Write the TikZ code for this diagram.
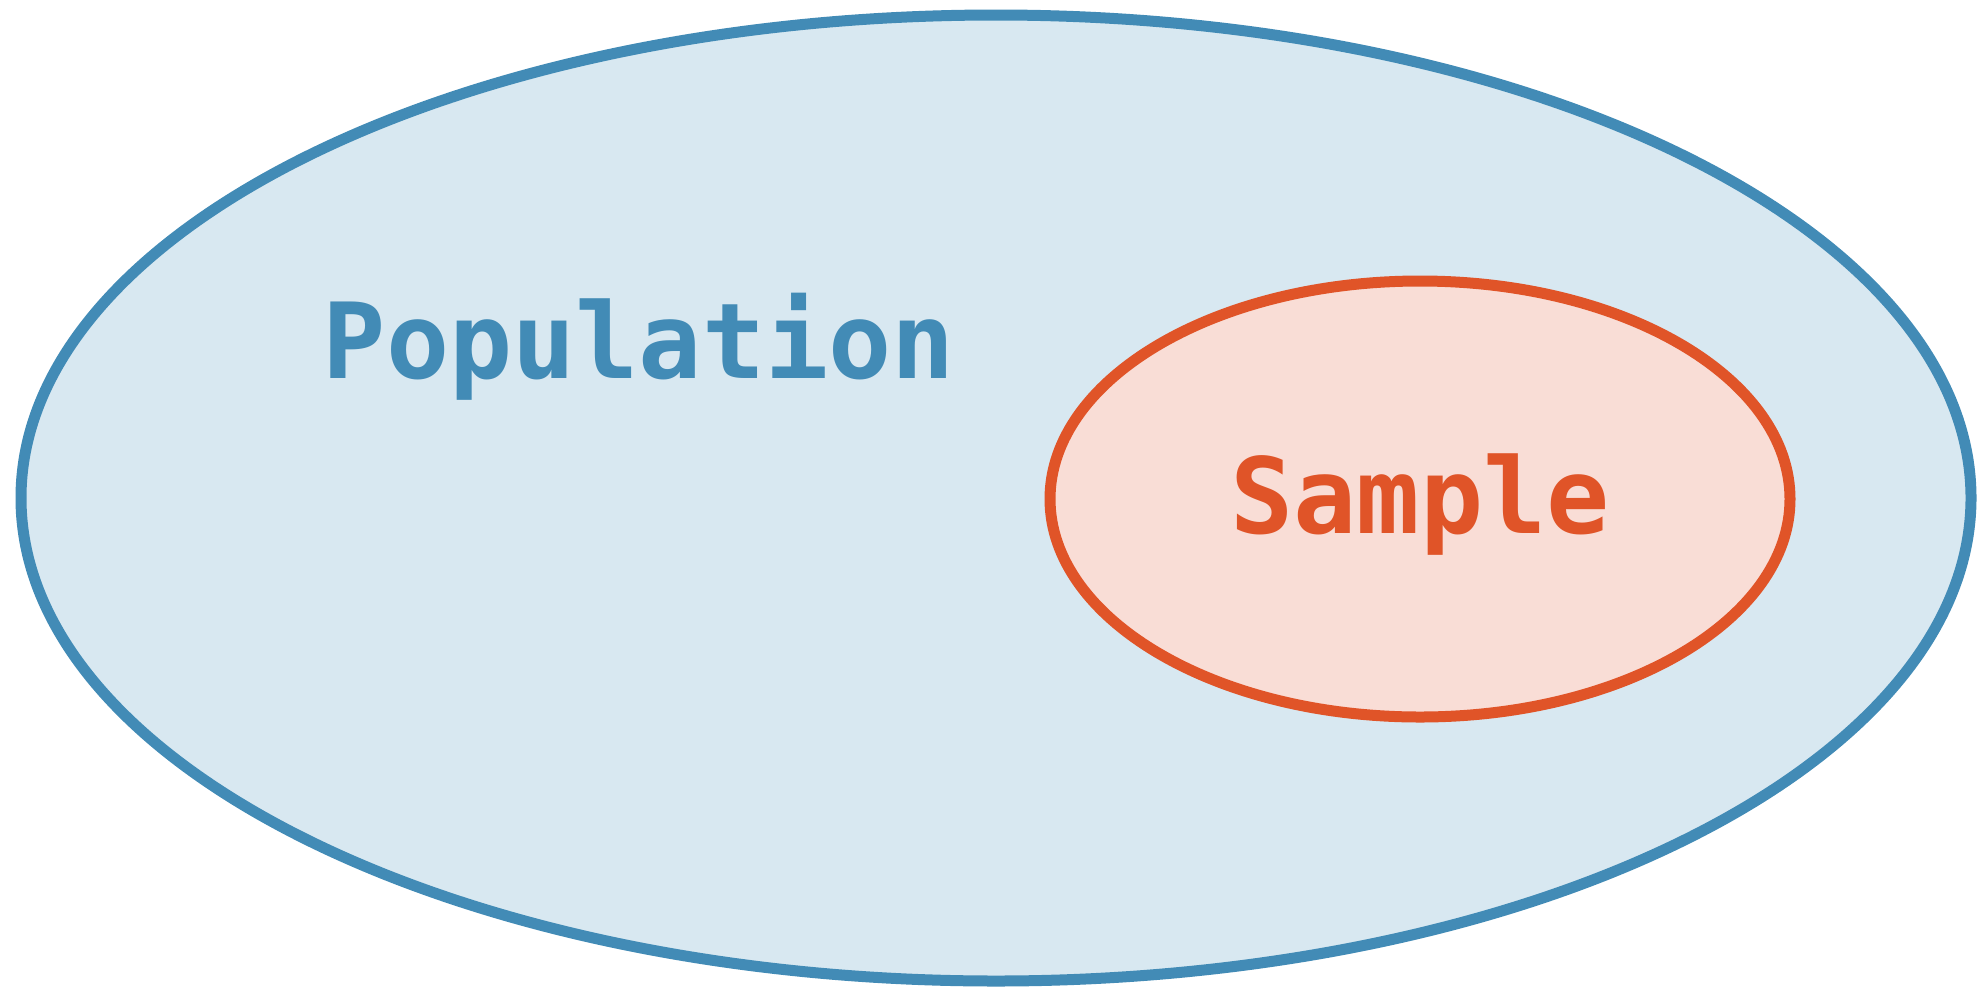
\documentclass[tikz,border=0pt]{standalone}
\usepackage{fontspec}
\setmonofont{DejaVu Sans Mono}
\usetikzlibrary{shapes.geometric}
\definecolor{popstroke}{HTML}{428BB6}
\definecolor{popfill}{HTML}{D8E8F1}
\definecolor{smpstroke}{HTML}{E05428}
\definecolor{smpfill}{HTML}{F9DDD6}
\tikzset{
  setshape/.style={ellipse, inner sep=0pt, outer sep=0pt, line width=11pt},
  setlabel/.style={font=\ttfamily\bfseries\fontsize{105}{112}\selectfont, inner sep=0pt, anchor=base},
  poplabel/.style={setlabel, text=popstroke},
  smplabel/.style={setlabel, text=smpstroke}
}
\begin{document}
\begin{tikzpicture}[x=1pt,y=-1pt]
\useasboundingbox (0,0) rectangle (1977,989);
\node[setshape, draw=popstroke, fill=popfill, minimum width=1950pt, minimum height=966pt] (population) at (996,498) {};
\node[setshape, draw=smpstroke, fill=smpfill, minimum width=740pt, minimum height=436pt] (sample) at (1420,499) {};
\node[poplabel] (poptext) at (639,378) {Population};
\node[smplabel] (smptext) at (1420,533) {Sample};
\end{tikzpicture}
\end{document}
